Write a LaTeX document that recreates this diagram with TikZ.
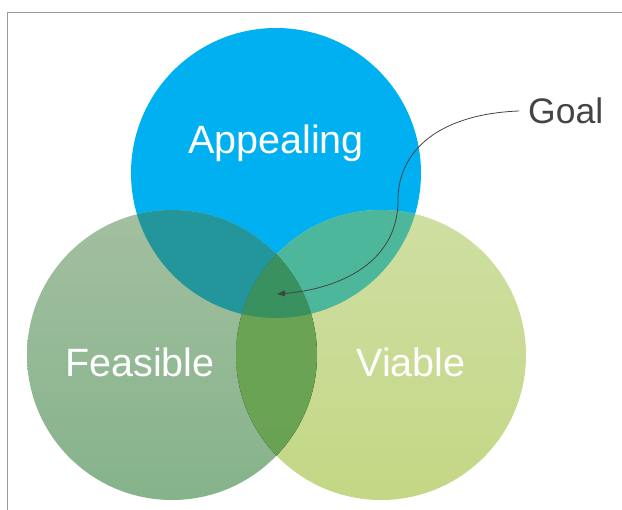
\documentclass[tikz,border=0pt]{standalone}
\usepackage{fontspec}
\setmainfont{Liberation Sans}
\usetikzlibrary{arrows.meta}
\definecolor{cblue}{HTML}{00B0F0}
\definecolor{lTop}{HTML}{A3BFA0}
\definecolor{lBot}{HTML}{85B38A}
\definecolor{rTop}{HTML}{CEDFA2}
\definecolor{rBot}{HTML}{C3D785}
\definecolor{cLA}{HTML}{22969A}
\definecolor{cRA}{HTML}{4CB79A}
\definecolor{cLRt}{HTML}{6AA456}
\definecolor{cLRb}{HTML}{6AA252}
\definecolor{cAll}{HTML}{3A9160}
\definecolor{frame}{HTML}{9A9A9A}
\definecolor{ink}{HTML}{444444}
\begin{document}
\begin{tikzpicture}[x=1pt,y=-1pt,
  set/.style={circle,minimum size=290pt,inner sep=0pt,outer sep=0pt},
  lbl/.style={text=white,font=\fontsize{39.5}{44}\selectfont,inner sep=0pt},
  goaltxt/.style={text=ink,font=\fontsize{35.5}{40}\selectfont,inner sep=0pt}]
\useasboundingbox (0,0) rectangle (622,510);
% frame lines
\draw[frame,line width=1.5pt] (7.5,510) -- (7.5,12.5) -- (622,12.5);
% circles
\node[set,fill=cblue] (A) at (276,173) {};
\node[set,top color=lTop,bottom color=lBot] (F) at (172,355) {};
\node[set,top color=rTop,bottom color=rBot] (V) at (381,355) {};
% overlaps
\begin{scope}
  \clip (A.center) circle (145);
  \fill[cLA] (F.center) circle (145);
  \fill[cRA] (V.center) circle (145);
\end{scope}
\begin{scope}
  \clip (F.center) circle (145);
  \fill[top color=cLRt,bottom color=cLRb] (V.center) circle (145);
  \clip (A.center) circle (145);
  \fill[cAll] (V.center) circle (145);
\end{scope}
% labels
\node[lbl] (tA) at (276,143) {Appealing};
\node[lbl] (tF) at (140,362) {Feasible};
\node[lbl] (tV) at (411,362) {Viable};
\node[goaltxt,anchor=west] (G) at (528,111) {Goal};
\coordinate (goalpt) at (277,294);
\draw[ink,line width=0.8pt,-{Triangle[length=8pt,width=6pt]}]
  ([xshift=-9pt]G.west) .. controls (440,114) and (398,150) .. (398,200)
  .. controls (398,268) and (330,290) .. (goalpt);
\end{tikzpicture}
\end{document}
